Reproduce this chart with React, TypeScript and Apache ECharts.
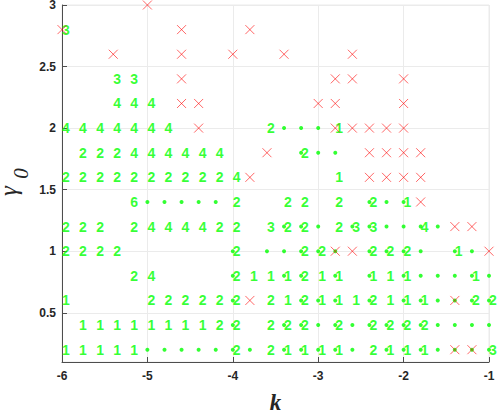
import React, { useEffect, useRef } from "react";
import * as echarts from "echarts";

// [k, gamma0, label]
const labelPoints: [number, number, string][] = [
  [-6, 2.8, "3"],
  [-5.4, 2.4, "3"], [-5.2, 2.4, "3"],
  [-5.4, 2.2, "4"], [-5.2, 2.2, "4"], [-5, 2.2, "4"],
  [-6, 2.0, "4"], [-5.8, 2.0, "4"], [-5.6, 2.0, "4"], [-5.4, 2.0, "4"], [-5.2, 2.0, "4"], [-5, 2.0, "4"], [-4.8, 2.0, "4"],
  [-3.6, 2.0, "2"], [-2.8, 2.0, "1"],
  [-5.8, 1.8, "2"], [-5.6, 1.8, "2"], [-5.4, 1.8, "2"], [-5.2, 1.8, "4"], [-5, 1.8, "4"], [-4.8, 1.8, "4"],
  [-4.6, 1.8, "4"], [-4.4, 1.8, "4"], [-4.2, 1.8, "4"], [-3.2, 1.8, "2"],
  [-6, 1.6, "2"], [-5.8, 1.6, "2"], [-5.6, 1.6, "2"], [-5.4, 1.6, "2"], [-5.2, 1.6, "2"], [-5, 1.6, "2"],
  [-4.8, 1.6, "2"], [-4.6, 1.6, "2"], [-4.4, 1.6, "2"], [-4.2, 1.6, "2"], [-4, 1.6, "4"], [-2.8, 1.6, "1"],
  [-5.2, 1.4, "6"], [-4, 1.4, "2"], [-3.4, 1.4, "2"], [-3.2, 1.4, "2"], [-2.8, 1.4, "2"], [-2.4, 1.4, "2"], [-2, 1.4, "1"],
  [-6, 1.2, "2"], [-5.8, 1.2, "2"], [-5.6, 1.2, "2"], [-5.2, 1.2, "2"], [-5, 1.2, "4"], [-4.8, 1.2, "4"],
  [-4.6, 1.2, "4"], [-4.4, 1.2, "4"], [-4.2, 1.2, "2"], [-4, 1.2, "2"], [-3.6, 1.2, "3"], [-3.4, 1.2, "2"],
  [-3.2, 1.2, "2"], [-2.8, 1.2, "2"], [-2.6, 1.2, "3"], [-2.4, 1.2, "3"], [-1.8, 1.2, "4"],
  [-6, 1.0, "2"], [-5.8, 1.0, "2"], [-5.6, 1.0, "2"], [-5.4, 1.0, "2"], [-4, 1.0, "2"], [-3.2, 1.0, "2"],
  [-3, 1.0, "2"], [-2.4, 1.0, "2"], [-2.2, 1.0, "2"], [-2, 1.0, "2"], [-1.4, 1.0, "1"],
  [-5.2, 0.8, "2"], [-5, 0.8, "4"], [-4, 0.8, "2"], [-3.8, 0.8, "1"], [-3.6, 0.8, "1"], [-3.4, 0.8, "1"],
  [-3.2, 0.8, "2"], [-3, 0.8, "1"], [-2.8, 0.8, "1"], [-2.4, 0.8, "1"], [-2.2, 0.8, "1"], [-2, 0.8, "1"], [-1.2, 0.8, "1"],
  [-6, 0.6, "1"], [-5, 0.6, "2"], [-4.8, 0.6, "2"], [-4.6, 0.6, "2"], [-4.4, 0.6, "2"], [-4.2, 0.6, "2"],
  [-4, 0.6, "2"], [-3.6, 0.6, "2"], [-3.4, 0.6, "1"], [-3.2, 0.6, "2"], [-3, 0.6, "1"], [-2.8, 0.6, "1"],
  [-2.6, 0.6, "1"], [-2.4, 0.6, "2"], [-2.2, 0.6, "1"], [-2, 0.6, "1"], [-1.8, 0.6, "1"], [-1.2, 0.6, "2"], [-1, 0.6, "2"],
  [-5.8, 0.4, "1"], [-5.6, 0.4, "1"], [-5.4, 0.4, "1"], [-5.2, 0.4, "1"], [-5, 0.4, "1"], [-4.8, 0.4, "1"],
  [-4.6, 0.4, "1"], [-4.4, 0.4, "1"], [-4.2, 0.4, "2"], [-4, 0.4, "2"], [-3.6, 0.4, "2"], [-3.4, 0.4, "2"],
  [-3.2, 0.4, "2"], [-2.8, 0.4, "2"], [-2.4, 0.4, "2"], [-2.2, 0.4, "2"], [-2, 0.4, "2"], [-1.8, 0.4, "2"],
  [-6, 0.2, "1"], [-5.8, 0.2, "1"], [-5.6, 0.2, "1"], [-5.4, 0.2, "1"], [-5.2, 0.2, "1"], [-4, 0.2, "2"],
  [-3.6, 0.2, "2"], [-3.4, 0.2, "1"], [-3.2, 0.2, "1"], [-3, 0.2, "1"], [-2.8, 0.2, "1"], [-2.4, 0.2, "2"],
  [-2.2, 0.2, "1"], [-2, 0.2, "1"], [-1.8, 0.2, "1"], [-1, 0.2, "3"],
];

// [k, gamma0]
const dotPoints: [number, number][] = [
  [-3.4, 2.0], [-3.2, 2.0], [-3.0, 2.0],
  [-3.2, 1.8], [-3.0, 1.8], [-2.8, 1.8],
  [-5, 1.4], [-4.8, 1.4], [-4.6, 1.4], [-4.4, 1.4], [-4.2, 1.4], [-2.4, 1.4], [-2.2, 1.4], [-2.0, 1.4],
  [-3.4, 1.2], [-3.2, 1.2], [-3.0, 1.2], [-2.6, 1.2], [-2.4, 1.2], [-2.2, 1.2], [-2.0, 1.2], [-1.8, 1.2], [-1.6, 1.2],
  [-4, 1.0], [-3.6, 1.0], [-3.4, 1.0], [-3.2, 1.0], [-3.0, 1.0], [-2.8, 1.0], [-2.4, 1.0], [-2.2, 1.0],
  [-2.0, 1.0], [-1.8, 1.0], [-1.4, 1.0], [-1.2, 1.0],
  [-4, 0.8], [-3.4, 0.8], [-3.2, 0.8], [-2.8, 0.8], [-2.4, 0.8], [-2.0, 0.8], [-1.8, 0.8], [-1.6, 0.8],
  [-1.4, 0.8], [-1.2, 0.8], [-1.0, 0.8],
  [-4, 0.6], [-3.2, 0.6], [-3.0, 0.6], [-2.8, 0.6], [-2.4, 0.6], [-2.0, 0.6], [-1.8, 0.6], [-1.6, 0.6],
  [-1.4, 0.6], [-1.2, 0.6], [-1.0, 0.6],
  [-4, 0.4], [-3.4, 0.4], [-3.2, 0.4], [-3.0, 0.4], [-2.8, 0.4], [-2.6, 0.4], [-2.4, 0.4], [-2.2, 0.4],
  [-2.0, 0.4], [-1.8, 0.4], [-1.6, 0.4], [-1.4, 0.4], [-1.2, 0.4], [-1.0, 0.4],
  [-5, 0.2], [-4.8, 0.2], [-4.6, 0.2], [-4.4, 0.2], [-4.2, 0.2], [-4, 0.2], [-3.8, 0.2], [-3.4, 0.2],
  [-3.2, 0.2], [-3.0, 0.2], [-2.8, 0.2], [-2.6, 0.2], [-2.2, 0.2], [-2.0, 0.2], [-1.8, 0.2], [-1.6, 0.2],
  [-1.4, 0.2], [-1.2, 0.2], [-1.0, 0.2],
];

// [k, gamma0]
const crossPoints: [number, number][] = [
  [-5, 3.0],
  [-6, 2.8], [-4.6, 2.8], [-3.8, 2.8],
  [-5.4, 2.6], [-4.6, 2.6], [-4.0, 2.6], [-3.4, 2.6], [-2.6, 2.6],
  [-4.6, 2.4], [-2.8, 2.4], [-2.6, 2.4], [-2.0, 2.4],
  [-4.6, 2.2], [-4.4, 2.2], [-3.0, 2.2], [-2.8, 2.2], [-2.0, 2.2],
  [-4.4, 2.0], [-2.8, 2.0], [-2.6, 2.0], [-2.4, 2.0], [-2.2, 2.0], [-2.0, 2.0],
  [-3.6, 1.8], [-2.4, 1.8], [-2.2, 1.8], [-2.0, 1.8], [-1.8, 1.8],
  [-3.8, 1.6], [-2.4, 1.6], [-2.2, 1.6], [-2.0, 1.6], [-1.8, 1.6],
  [-1.8, 1.4],
  [-1.4, 1.2], [-1.2, 1.2],
  [-2.8, 1.0], [-2.6, 1.0], [-1.0, 1.0],
  [-3.8, 0.6], [-1.4, 0.6],
  [-1.4, 0.2], [-1.2, 0.2],
];

const xTicks = [-6, -5, -4, -3, -2, -1];
const yTicks = [0.5, 1, 1.5, 2, 2.5, 3];

const AXIS_DARK = "#262626";
const AXIS_LINE = "#4d4d4d";
const GRID_LIGHT = "#ebebeb";
const GREEN = "#00ff00";
const RED = "#ff0000";

export default function App() {
  const ref = useRef<HTMLDivElement>(null);
  useEffect(() => {
    if (!ref.current) return;
    const chart = echarts.init(ref.current, undefined, { renderer: "svg" });
    chart.setOption({
      animation: false,
      backgroundColor: "#ffffff",
      grid: {
        left: 62,
        right: 10,
        top: 5,
        bottom: 53,
        outerBoundsMode: "none",
        show: true,
        borderColor: GRID_LIGHT,
        borderWidth: 1,
      },
      graphic: [
        {
          type: "text",
          x: 8,
          y: 191,
          rotation: Math.PI / 2,
          style: {
            text: "γ",
            fontFamily: "Liberation Serif",
            fontStyle: "italic",
            fontSize: 25,
            lineHeight: 14,
            fill: AXIS_DARK,
            align: "center",
            verticalAlign: "middle",
          },
        },
        {
          type: "text",
          x: 20.5,
          y: 173.5,
          rotation: Math.PI / 2,
          style: {
            text: "0",
            fontFamily: "Liberation Serif",
            fontStyle: "italic",
            fontSize: 21,
            fill: AXIS_DARK,
            align: "center",
            verticalAlign: "middle",
          },
        },
      ],
      xAxis: {
        type: "value",
        min: xTicks[0],
        max: xTicks[xTicks.length - 1],
        interval: 1,
        name: "k",
        nameLocation: "middle",
        nameGap: 30,
        nameTextStyle: {
          fontFamily: "Liberation Serif",
          fontStyle: "italic",
          fontWeight: "bold",
          fontSize: 23,
          lineHeight: 20,
          color: AXIS_DARK,
        },
        axisLine: { show: true, onZero: false, lineStyle: { color: AXIS_LINE, width: 1 } },
        axisTick: { show: true, inside: true, length: 5, lineStyle: { color: AXIS_LINE } },
        axisLabel: {
          margin: 8,
          fontFamily: "Liberation Sans",
          fontWeight: "bold",
          fontSize: 12,
          color: AXIS_DARK,
        },
        splitLine: { show: true, lineStyle: { color: GRID_LIGHT, width: 1 } },
      },
      yAxis: {
        type: "value",
        min: 0.1,
        max: 3,
        axisLine: { show: true, onZero: false, lineStyle: { color: AXIS_LINE, width: 1 } },
        axisTick: { show: true, inside: true, length: 5, customValues: yTicks, lineStyle: { color: AXIS_LINE } },
        axisLabel: {
          margin: 6,
          customValues: yTicks,
          fontFamily: "Liberation Sans",
          fontWeight: "bold",
          fontSize: 12,
          lineHeight: 10,
          color: AXIS_DARK,
        },
        splitLine: { show: true, lineStyle: { color: GRID_LIGHT, width: 1 } },
      },
      series: [
        {
          name: "dots",
          type: "scatter",
          symbol: "circle",
          symbolSize: 4,
          itemStyle: { color: GREEN },
          data: dotPoints,
          z: 2,
        },
        {
          name: "labels",
          type: "scatter",
          symbol: "circle",
          symbolSize: 0,
          itemStyle: { color: "rgba(0,0,0,0)" },
          data: labelPoints.map((p) => ({ value: [p[0], p[1]], label: { formatter: p[2] } })),
          label: {
            show: true,
            position: "right",
            distance: 0,
            fontFamily: "Liberation Sans",
            fontWeight: "bold",
            fontSize: 14,
            color: GREEN,
          },
          z: 3,
        },
        {
          name: "crosses",
          type: "scatter",
          symbol: "path://M0,0L10,10M10,0L0,10",
          symbolSize: 9,
          itemStyle: { color: "rgba(255,0,0,0)", borderColor: RED, borderWidth: 1, opacity: 0.6 },
          data: crossPoints,
          z: 4,
        },
      ],
    });
    return () => chart.dispose();
  }, []);
  return (
    <div
      ref={ref}
      style={{ position: "fixed", left: 0, top: 0, width: 499, height: 415, background: "#fff" }}
    />
  );
}
